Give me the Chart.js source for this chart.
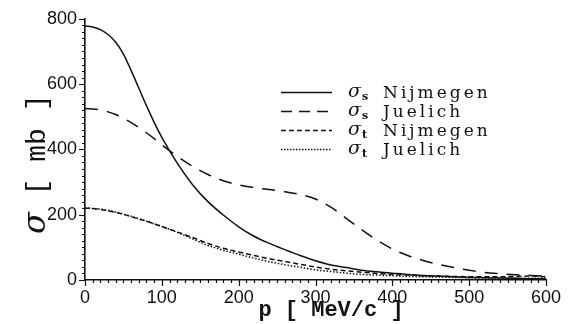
<!DOCTYPE html>
<html>
<head>
<meta charset="utf-8">
<script src="https://cdn.jsdelivr.net/npm/chart.js@4.4.1/dist/chart.umd.min.js"></script>
<style>
    html, body { margin: 0; padding: 0; background: #fff; }
    #wrap { width: 577px; height: 324px; }
</style>
</head>
<body>
<div id="wrap"><canvas id="sigmaChart" width="577" height="324"></canvas></div>
<script>
// momentum grid, MeV/c
const momentum = [0, 10, 20, 30, 40, 50, 60, 70, 80, 90, 100, 120, 140, 160, 180, 200, 220, 240, 260, 280, 300,
    320, 340, 360, 380, 400, 420, 440, 460, 480, 500, 520, 540, 560, 580, 600];

// cross sections, mb
const sigmaSNijmegen = [778, 775, 767, 752, 728, 692, 642, 588, 534, 483, 437, 358, 292, 240, 199, 163, 134, 112, 93, 75, 59,
    46, 38, 30, 25, 21, 17, 14, 12, 10, 8, 7, 6, 5, 4, 4];
const sigmaSJuelich = [525, 524, 521, 515, 507, 495, 482, 467, 451, 433, 414, 379, 348, 323, 304, 291, 283, 277, 270, 262, 248,
    223, 189, 154, 122, 95, 75, 60, 48, 38, 30, 23, 19, 16, 14, 12];
const sigmaTNijmegen = [220, 219, 216, 212, 207, 201, 194, 187, 180, 172, 164, 147, 130, 112, 97, 86, 75, 65, 57, 48, 40,
    33, 28, 24, 20, 17, 15, 13, 12, 11, 10, 10, 10, 11, 12, 10];
const sigmaTJuelich = [220, 219, 217, 213, 208, 202, 195, 188, 180, 172, 164, 146, 126, 106, 91, 79, 67, 56, 47, 39, 31,
    26, 21, 17, 15, 13, 11, 10, 9, 8, 7, 6, 6, 5, 5, 5];

const xTicks = [0, 100, 200, 300, 400, 500, 600];
const yTicks = [0, 200, 400, 600, 800];

const legendRows = [
    { sub: "s", name: "Nijmegen", dash: [] },
    { sub: "s", name: "Juelich", dash: [11, 7] },
    { sub: "t", name: "Nijmegen", dash: [5, 3] },
    { sub: "t", name: "Juelich", dash: [1.5, 1.5] }
];

function toPoints(values) {
    return momentum.map((p, i) => ({ x: p, y: values[i] }));
}

function lineSet(label, values, dash) {
    return {
        label: label,
        data: toPoints(values),
        borderColor: "#111",
        borderWidth: 1.5,
        borderDash: dash,
        pointRadius: 0,
        fill: false,
        cubicInterpolationMode: "monotone"
    };
}

//
// ================= DECORATION PLUGIN =================
//
const decorPlugin = {
    id: "decor",
    afterDraw(chart) {
        const ctx = chart.ctx;
        const xs = chart.scales.x;
        const ys = chart.scales.y;
        const area = chart.chartArea;

        ctx.save();
        ctx.strokeStyle = "#111";
        ctx.lineWidth = 1.2;
        ctx.beginPath();
        // y ticks, outward
        for (let v = 0; v <= 800; v += 20) {
            const py = Math.round(ys.getPixelForValue(v)) + 0.5;
            const len = v % 200 === 0 ? 6 : 3;
            ctx.moveTo(area.left - len, py);
            ctx.lineTo(area.left, py);
        }
        // x ticks, outward
        for (let v = 0; v <= 600; v += 10) {
            const px = Math.round(xs.getPixelForValue(v)) + 0.5;
            const len = v % 100 === 0 ? 6 : 3;
            ctx.moveTo(px, area.bottom);
            ctx.lineTo(px, area.bottom + len);
        }
        ctx.stroke();

        // axis titles
        ctx.fillStyle = "#111";
        ctx.textBaseline = "alphabetic";
        ctx.textAlign = "left";

        ctx.font = "bold 22px 'Liberation Mono'";
        const xt = "p [ MeV/c ]";
        const xw = ctx.measureText(xt).width;
        ctx.fillText(xt, 331 - xw / 2, 316);

        ctx.save();
        ctx.translate(45, 234);
        ctx.rotate(-Math.PI / 2);
        ctx.font = "italic 32px 'DejaVu Serif'";
        ctx.fillText("σ", 0, 0);
        const sw = ctx.measureText("σ").width;
        ctx.font = "28px 'Liberation Mono'";
        ctx.fillText(" [ mb ]", sw, 0);
        ctx.restore();

        // legend
        legendRows.forEach((row, i) => {
            const cy = 92 + i * 19;
            ctx.save();
            ctx.setLineDash(row.dash);
            ctx.lineWidth = 1.4;
            ctx.beginPath();
            ctx.moveTo(281, cy + 0.5);
            ctx.lineTo(332, cy + 0.5);
            ctx.stroke();
            ctx.restore();

            ctx.font = "italic 19px 'DejaVu Serif'";
            ctx.fillText("σ", 348, cy + 5);
            const gw = ctx.measureText("σ").width;
            ctx.font = "bold 11px 'DejaVu Serif'";
            ctx.fillText(row.sub, 348 + gw + 1, cy + 8);
            ctx.font = "17px 'DejaVu Serif'";
            ctx.letterSpacing = "3px";
            ctx.fillText(row.name, 383, cy + 6);
            ctx.letterSpacing = "0px";
        });
        ctx.restore();
    }
};

//
// ================= CHART =================
//
const ctx = document.getElementById("sigmaChart").getContext("2d");

new Chart(ctx, {
    type: "line",
    data: {
        datasets: [
            lineSet("σs Nijmegen", sigmaSNijmegen, []),
            lineSet("σs Juelich", sigmaSJuelich, [13, 9]),
            lineSet("σt Nijmegen", sigmaTNijmegen, [5, 3]),
            lineSet("σt Juelich", sigmaTJuelich, [1.5, 1.8])
        ]
    },
    options: {
        responsive: false,
        animation: false,
        layout: { padding: { top: 17, right: 31, left: 0, bottom: 0 } },
        plugins: {
            legend: { display: false },
            tooltip: { enabled: false }
        },
        scales: {
            x: {
                type: "linear",
                min: 0,
                max: 600,
                afterBuildTicks: (scale) => { scale.ticks = xTicks.map(v => ({ value: v })); },
                afterFit: (scale) => { scale.height = 44; },
                grid: { display: false, drawTicks: false },
                border: { display: true, color: "#111", width: 1.6 },
                ticks: {
                    color: "#111",
                    padding: 7,
                    maxRotation: 0,
                    font: { family: "'Liberation Sans'", size: 18 }
                }
            },
            y: {
                min: 0,
                max: 800,
                afterBuildTicks: (scale) => { scale.ticks = yTicks.map(v => ({ value: v })); },
                afterFit: (scale) => { scale.width = 85; },
                grid: { display: false, drawTicks: false },
                border: { display: true, color: "#111", width: 1.6 },
                ticks: {
                    color: "#111",
                    padding: 8,
                    font: { family: "'Liberation Sans'", size: 18 }
                }
            }
        }
    },
    plugins: [decorPlugin]
});
</script>
</body>
</html>
